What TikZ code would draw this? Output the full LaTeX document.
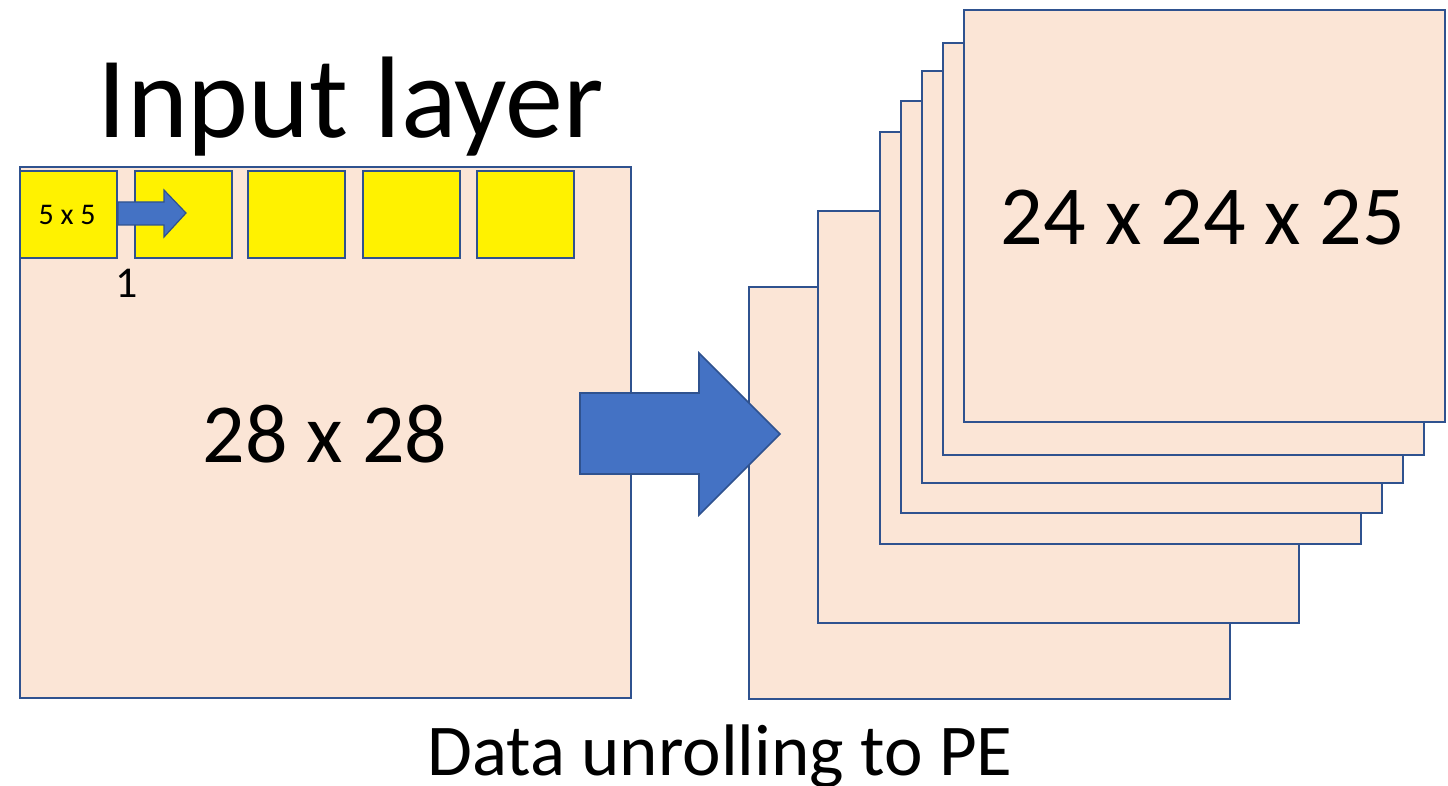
\documentclass[tikz,border=0pt]{standalone}
\usepackage{fontspec}
\setmainfont{Carlito}
\definecolor{edgeblue}{HTML}{2F528F}
\definecolor{peach}{HTML}{FBE5D6}
\definecolor{arrowblue}{HTML}{4472C4}
\begin{document}
\begin{tikzpicture}[x=1pt,y=-1pt,
  sheet/.style={draw=edgeblue,fill=peach,line width=2pt,inner sep=0pt,anchor=north west},
  kernel/.style={draw=edgeblue,fill=yellow,line width=2pt,inner sep=0pt,anchor=north west,
    minimum width=97pt,minimum height=87pt},
  fmap/.style={sheet,minimum width=481pt,minimum height=412pt},
  blockarrow/.style={draw=edgeblue,fill=arrowblue,line width=1.6pt,line join=miter},
  label/.style={inner sep=0pt,anchor=base,text=black}]
\useasboundingbox (0,0) rectangle (1448,786);

% input image with the sliding 5x5 windows
\node[sheet,minimum width=611pt,minimum height=531pt] (input) at (19,166) {};
\foreach \x [count=\i] in {19,134,247,362,476}
  \node[kernel] (k\i) at (\x,170) {};

% stride arrow between the first two windows
\draw[blockarrow,line width=1.2pt] (k1.east |- 0,202) -- (164,202) -- (164,190) -- (186,213)
  -- (164,237) -- (164,225) -- (k1.east |- 0,225) -- cycle;

% stack of unrolled feature maps
\foreach \x/\y [count=\i] in {748/286,817/210,879/131,900/100,921/70,942/42,963/9}
  \node[fmap] (m\i) at (\x,\y) {};

% big arrow from input to the stack
\draw[blockarrow] (580,393) -- (699,393) -- (699,353) -- (780,434) -- (699,515)
  -- (699,474) -- (580,474) -- cycle;

% labels
\node[label,font=\fontsize{116}{130}\selectfont] (title) at (351,138) {Input layer};
\node[label,font=\fontsize{84}{100}\selectfont] (insize) at (325,462) {28 x 28};
\node[label,font=\fontsize{84}{100}\selectfont] (outsize) at (1203,245) {24 x 24 x 25};
\node[label,font=\fontsize{73}{88}\selectfont] (caption) at (720,775) {Data unrolling to PE};
\node[label,font=\fontsize{30}{36}\selectfont] (ksize) at (67,225) {5 x 5};
\node[label,font=\fontsize{44}{52}\selectfont] (stride) at (127,298) {1};
\end{tikzpicture}
\end{document}
